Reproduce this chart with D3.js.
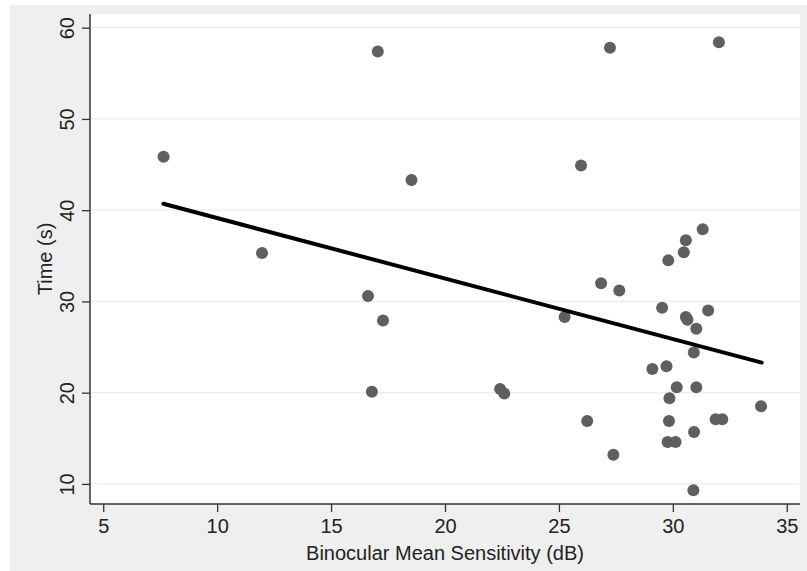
<!DOCTYPE html>
<html>
<head>
<meta charset="utf-8">
<script src="https://cdn.jsdelivr.net/npm/d3@7"></script>
<style>
  body { margin: 0; background: #fff; }
  svg { display: block; font-family: "Liberation Sans", Arial, Helvetica, sans-serif; }
</style>
</head>
<body>
<div id="chart"></div>
<script>
// values
const sensitivity = [7.65, 11.97, 16.62, 17.05, 17.28, 16.79, 18.53, 22.42, 22.6, 25.25,
  25.97, 26.24, 26.85, 27.24, 27.39, 27.65, 29.53, 29.1, 29.72, 29.8,
  30.48, 30.57, 31.31, 30.57, 30.64, 31.03, 31.55, 30.92, 30.17, 31.03,
  29.85, 29.83, 29.77, 30.12, 30.93, 31.88, 32.17, 33.87, 30.9, 32.02];
const timeSec = [45.85, 35.3, 30.6, 57.4, 27.9, 20.1, 43.3, 20.4, 19.9, 28.3,
  44.9, 16.9, 32.0, 57.8, 13.2, 31.2, 29.3, 22.6, 22.9, 34.5,
  35.4, 36.7, 37.9, 28.3, 28.0, 27.0, 29.0, 24.4, 20.6, 20.6,
  19.4, 16.9, 14.6, 14.6, 15.7, 17.1, 17.1, 18.5, 9.3, 58.4];
const fitX = [7.64, 33.9];
const fitY = [40.7, 23.3];
const xTicks = [5, 10, 15, 20, 25, 30, 35];
const yTicks = [10, 20, 30, 40, 50, 60];

const width = 807, height = 571;
const plot = { left: 90, right: 800, top: 14, bottom: 504 };
const fontSize = "20px";

const svg = d3.select("#chart").append("svg")
  .attr("width", width)
  .attr("height", height);

// outer gray panel + white plot region
svg.append("rect")
  .attr("x", 10).attr("y", 5)
  .attr("width", width - 10).attr("height", height - 5)
  .attr("fill", "#efefef");
svg.append("rect")
  .attr("x", plot.left).attr("y", plot.top)
  .attr("width", plot.right - plot.left).attr("height", plot.bottom - plot.top)
  .attr("fill", "#ffffff");

const x = d3.scaleLinear().domain([4.42, 35.58]).range([plot.left, plot.right]);
const y = d3.scaleLinear().domain([7.8, 61.5]).range([plot.bottom, plot.top]);

// gridlines
svg.append("g")
  .selectAll("line")
  .data(yTicks)
  .join("line")
  .attr("x1", plot.left).attr("x2", plot.right)
  .attr("y1", d => y(d)).attr("y2", d => y(d))
  .attr("stroke", "#e6efed")
  .attr("stroke-width", 1.3);

// axes
const xAxis = svg.append("g")
  .attr("transform", `translate(0,${plot.bottom})`)
  .call(d3.axisBottom(x).tickValues(xTicks).tickSize(8).tickPadding(5).tickSizeOuter(0));
const yAxis = svg.append("g")
  .attr("transform", `translate(${plot.left},0)`)
  .call(d3.axisLeft(y).tickValues(yTicks).tickSize(8).tickSizeOuter(0));

[xAxis, yAxis].forEach(a => {
  a.select(".domain").remove();
  a.selectAll(".tick line").attr("stroke", "#333").attr("stroke-width", 1.3);
  a.selectAll("text").attr("fill", "#222").style("font-size", fontSize);
});

// y tick labels rotated like the source
yAxis.selectAll(".tick text")
  .attr("x", null).attr("dy", null)
  .attr("text-anchor", "middle")
  .attr("transform", "translate(-16,0) rotate(-90)");

xAxis.selectAll(".tick text").attr("dy", "0.8em");

// axis lines
svg.append("line")
  .attr("x1", plot.left).attr("x2", plot.left)
  .attr("y1", plot.top).attr("y2", plot.bottom)
  .attr("stroke", "#333").attr("stroke-width", 1.5);
svg.append("line")
  .attr("x1", plot.left).attr("x2", plot.right)
  .attr("y1", plot.bottom).attr("y2", plot.bottom)
  .attr("stroke", "#333").attr("stroke-width", 1.5);

// axis titles
svg.append("text")
  .attr("x", (plot.left + plot.right) / 2)
  .attr("y", 560)
  .attr("text-anchor", "middle")
  .attr("fill", "#222")
  .style("font-size", fontSize)
  .text("Binocular Mean Sensitivity (dB)");

svg.append("text")
  .attr("transform", `translate(52,${(plot.top + plot.bottom) / 2}) rotate(-90)`)
  .attr("text-anchor", "middle")
  .attr("fill", "#222")
  .style("font-size", fontSize)
  .text("Time (s)");

// points
const pts = sensitivity.map((s, i) => ({ s: s, t: timeSec[i] }));
svg.append("g")
  .selectAll("circle")
  .data(pts)
  .join("circle")
  .attr("cx", d => x(d.s))
  .attr("cy", d => y(d.t))
  .attr("r", 6)
  .attr("fill", "#5f5f5f");

// fitted line
const fit = fitX.map((v, i) => [v, fitY[i]]);
svg.append("path")
  .datum(fit)
  .attr("d", d3.line().x(d => x(d[0])).y(d => y(d[1])))
  .attr("stroke", "#000")
  .attr("stroke-width", 4)
  .attr("stroke-linecap", "round")
  .attr("fill", "none");
</script>
</body>
</html>
